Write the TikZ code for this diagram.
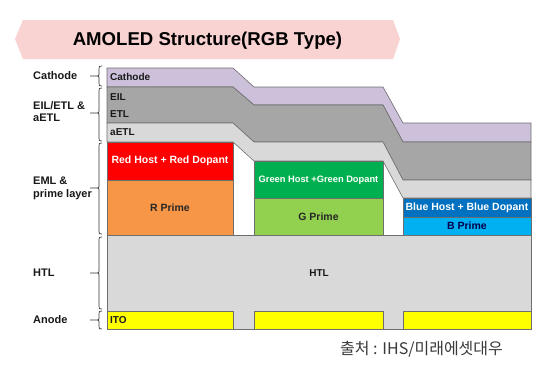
\documentclass[tikz,border=0pt]{standalone}
\usepackage{fontspec}
\setmainfont{Liberation Sans}
\newfontfamily\krfont{Noto Sans CJK KR}
\definecolor{bannerc}{HTML}{F9D2D2}
\definecolor{cathc}{HTML}{CCC0DA}
\definecolor{darkg}{HTML}{A6A6A6}
\definecolor{lightg}{HTML}{D9D9D9}
\definecolor{redc}{HTML}{FF0000}
\definecolor{orangec}{HTML}{F79646}
\definecolor{greenh}{HTML}{00B050}
\definecolor{greenp}{HTML}{92D050}
\definecolor{blueh}{HTML}{0070C0}
\definecolor{bluep}{HTML}{00B0F0}
\definecolor{itoc}{HTML}{FFFF00}
\definecolor{edgec}{HTML}{6E6E6E}
\definecolor{brc}{HTML}{333333}
\definecolor{credc}{HTML}{3A3A3A}
\newcommand\sidebrace[3]{%
  \draw[brk] (102,#1) .. controls (99,#1) .. (99,#1+3) -- (99,#3-2)
     .. controls (99,#3) .. (96,#3) -- (90,#3)
     (96,#3) .. controls (99,#3) .. (99,#3+2) -- (99,#2-3)
     .. controls (99,#2) .. (102,#2);}
\begin{document}
\begin{tikzpicture}[x=1pt,y=-1pt,
  band/.style={draw=edgec, line width=0.6pt},
  brk/.style={draw=brc, line width=0.7pt},
  inlbl/.style={font=\bfseries\fontsize{10}{12}\selectfont, anchor=west, inner sep=0pt, text=black!90},
  sidelbl/.style={font=\bfseries\fontsize{11}{12}\selectfont, anchor=west, align=left, inner sep=0pt, text=black!90},
  hostlbl/.style={font=\bfseries\fontsize{10.5}{12}\selectfont, inner sep=0pt, text=white},
  primelbl/.style={font=\bfseries\fontsize{10.5}{12}\selectfont, inner sep=0pt}]
\path[use as bounding box, fill=white] (0,0) rectangle (554,367);

% banner
\fill[bannerc] (15,39) -- (23,20) -- (393,20) -- (400,39) -- (393,59) -- (23,59) -- cycle;
\node[font=\bfseries\fontsize{18.6}{20}\selectfont, inner sep=0pt] (title) at (207.5,41) {AMOLED Structure(RGB Type)};

% stacked upper layers
\path[band, fill=cathc] (107,68) -- (233,68) -- (254,87) -- (383,87) -- (403,123) -- (531,123)
  -- (531,142) -- (403,142) -- (383,105) -- (254,105) -- (233,87) -- (107,87) -- cycle;
\path[band, fill=darkg] (107,87) -- (233,87) -- (254,105) -- (383,105) -- (403,142) -- (531,142)
  -- (531,180) -- (403,180) -- (383,142) -- (254,142) -- (233,123) -- (107,123) -- cycle;
\path[band, fill=lightg] (107,123) -- (233,123) -- (254,142) -- (383,142) -- (403,180) -- (531,180)
  -- (531,198) -- (403,198) -- (383,161) -- (254,161) -- (233,142) -- (107,142) -- cycle;

% EML boxes
\path[band, fill=redc] (107,142) rectangle (233,180);
\path[band, fill=orangec] (107,180) rectangle (233,235);
\path[band, fill=greenh] (254,161) rectangle (383,198);
\path[band, fill=greenp] (254,198) rectangle (383,235);
\path[band, fill=blueh] (403,198) rectangle (531,217);
\path[band, fill=bluep] (403,217) rectangle (531,235);

% HTL and ITO
\path[band, fill=lightg] (107,235) rectangle (531,329);
\path[band, fill=itoc] (107,311) rectangle (233,329);
\path[band, fill=itoc] (254,311) rectangle (383,329);
\path[band, fill=itoc] (403,311) rectangle (531,329);

% inner labels
\node[inlbl] (lcath) at (110,77) {Cathode};
\node[inlbl] (leil) at (110,97) {EIL};
\node[inlbl] (letl) at (110,114) {ETL};
\node[inlbl] (laetl) at (110,132) {aETL};
\node[hostlbl] (rhost) at (170,161) {Red Host + Red Dopant};
\node[primelbl, text=black!85] (rprime) at (170,208) {R Prime};
\node[hostlbl, font=\bfseries\fontsize{9.3}{11}\selectfont] (ghost) at (318.5,180) {Green Host +Green Dopant};
\node[primelbl, text=black!85] (gprime) at (318.5,217) {G Prime};
\node[hostlbl] (bhost) at (467,208) {Blue Host + Blue Dopant};
\node[primelbl, text={blue!30!black}] (bprime) at (467,226) {B Prime};
\node[inlbl, anchor=center] (lhtl) at (319,273) {HTL};
\node[inlbl] (lito) at (110,320) {ITO};

% side labels
\node[sidelbl] (scath) at (33,76) {Cathode};
\node[sidelbl] (seil) at (33,112) {EIL/ETL \&\\aETL};
\node[sidelbl, font=\bfseries\fontsize{11}{13}\selectfont] (seml) at (33,188.5) {EML \&\\prime layer};
\node[sidelbl] (shtl) at (33,273) {HTL};
\node[sidelbl] (sanode) at (33,320) {Anode};

% braces
\sidebrace{66}{86}{76}
\sidebrace{88}{141}{113}
\sidebrace{143}{234}{188}
\sidebrace{237}{309}{273}
\sidebrace{311}{329}{320}

% credit
\node[font=\krfont\fontsize{16}{18}\selectfont, text=credc, anchor=west, inner sep=0pt] (credit) at (340,349) {출처 : IHS/미래에셋대우};
\end{tikzpicture}
\end{document}
